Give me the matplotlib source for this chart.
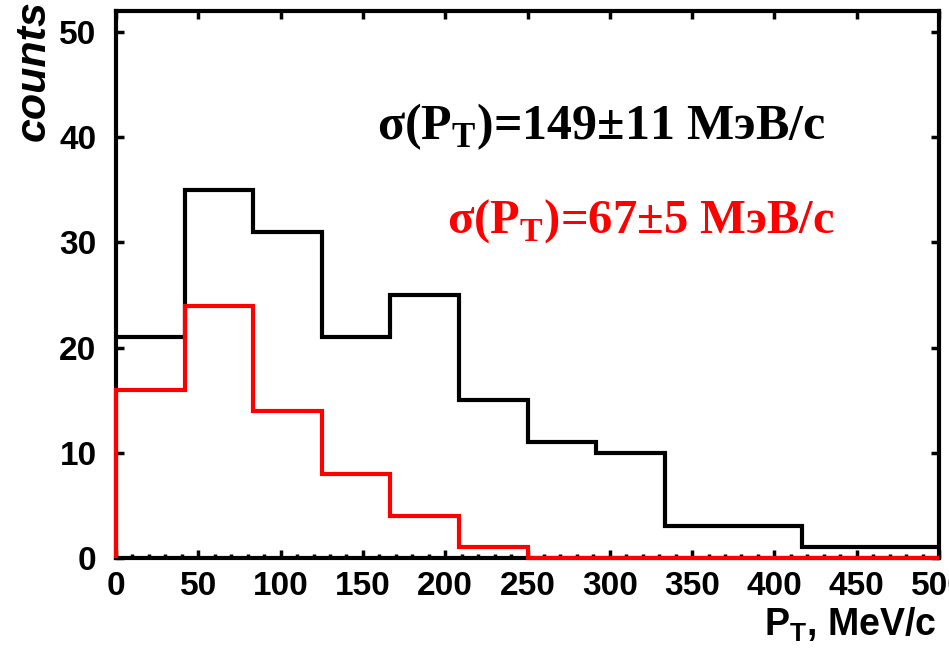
import numpy as np
import matplotlib
matplotlib.use("Agg")
from matplotlib import pyplot as plt
from matplotlib.ticker import MultipleLocator

plt.rcParams['mathtext.fontset'] = 'custom'
plt.rcParams['mathtext.rm'] = 'Liberation Serif:bold'
plt.rcParams['mathtext.sf'] = 'Liberation Sans:bold'

# bin edges, MeV/c (12 bins over 0..500)
edges = np.linspace(0, 500, 13)
counts_all = [21, 35, 31, 21, 25, 15, 11, 10, 3, 3, 1, 1]
counts_sel = [16, 24, 14, 8, 4, 1, 0, 0, 0, 0, 0, 0]

label_all = 'σ(P$_\\mathrm{T}$)=149±11 MэB/c'
label_sel = 'σ(P$_\\mathrm{T}$)=67±5 MэB/c'

fig = plt.figure(figsize=(9.49, 6.49), dpi=100)
ax = fig.add_axes([0.1222, 0.1402, 0.8673, 0.8428])

ax.stairs(counts_all, edges, color='black', lw=3.0, baseline=None,
          zorder=3, clip_on=False)
ax.stairs(counts_sel, edges, color='red', lw=3.0, baseline=0,
          zorder=4, clip_on=False)

ax.set_xlim(0, 500)
ax.set_ylim(0, 52)
ax.xaxis.set_major_locator(MultipleLocator(50))
ax.xaxis.set_minor_locator(MultipleLocator(10))
ax.yaxis.set_major_locator(MultipleLocator(10))

for s in ax.spines.values():
    s.set_linewidth(3.0)

ax.tick_params(which='both', direction='in', top=True, right=True,
               labeltop=False, labelright=False, width=2.5)
ax.tick_params(which='major', length=6)
ax.tick_params(which='minor', length=3, top=False)
ax.tick_params(axis='y', pad=14)
ax.tick_params(axis='x', pad=9)

for lab in ax.get_xticklabels() + ax.get_yticklabels():
    lab.set_fontfamily('Liberation Sans')
    lab.set_fontweight('bold')
    lab.set_fontsize(24)

ax.set_xlabel('P$_\\mathsf{T}$, MeV/c', fontfamily='Liberation Sans',
              fontweight='bold', fontsize=27, ha='right')
ax.xaxis.set_label_coords(0.997, -0.088)
ax.set_ylabel('counts', fontfamily='Liberation Sans', fontweight='bold',
              fontstyle='italic', fontsize=31, ha='right', va='center')
ax.yaxis.set_label_coords(-0.10, 1.02)

ax.text(0.317, 0.765, label_all, transform=ax.transAxes, color='black',
        fontfamily='Liberation Serif', fontweight='bold', fontsize=36)
ax.text(0.402, 0.595, label_sel, transform=ax.transAxes, color='red',
        fontfamily='Liberation Serif', fontweight='bold', fontsize=35)

fig.savefig('out.png', dpi=100)
